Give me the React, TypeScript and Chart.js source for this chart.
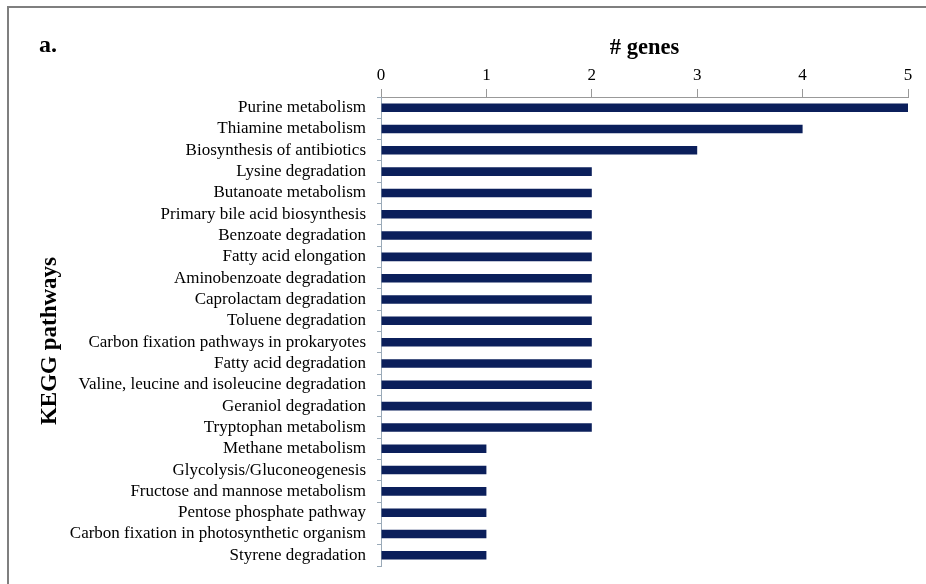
import React, { useEffect, useRef } from "react";
import { Chart, registerables } from "chart.js";

Chart.register(...registerables);

const pathways: string[] = [
  "Purine metabolism",
  "Thiamine metabolism",
  "Biosynthesis of antibiotics",
  "Lysine degradation",
  "Butanoate metabolism",
  "Primary bile acid biosynthesis",
  "Benzoate degradation",
  "Fatty acid elongation",
  "Aminobenzoate degradation",
  "Caprolactam degradation",
  "Toluene degradation",
  "Carbon fixation pathways in prokaryotes",
  "Fatty acid degradation",
  "Valine, leucine and isoleucine degradation",
  "Geraniol degradation",
  "Tryptophan metabolism",
  "Methane metabolism",
  "Glycolysis/Gluconeogenesis",
  "Fructose and mannose metabolism",
  "Pentose phosphate pathway",
  "Carbon fixation in photosynthetic organism",
  "Styrene degradation",
];

const geneCounts: number[] = [5, 4, 3, 2, 2, 2, 2, 2, 2, 2, 2, 2, 2, 2, 2, 2, 1, 1, 1, 1, 1, 1];

const xTicks: number[] = [0, 1, 2, 3, 4, 5];

const xTitle = "# genes";
const yTitle = "KEGG pathways";
const panelLabel = "a.";

const FONT = "'Liberation Serif', 'Times New Roman', serif";

const PAD_L = 10;
const PAD_T = 20;
const AXIS_X = 381;
const AXIS_Y = 97;

export default function App() {
  const ref = useRef<HTMLCanvasElement | null>(null);

  useEffect(() => {
    document.body.style.margin = "0";
    const canvas = ref.current;
    if (!canvas) return;

    const textPlugin = {
      id: "extraText",
      afterDraw(chart: any) {
        const ctx = chart.ctx;
        ctx.save();
        ctx.fillStyle = "#000";
        ctx.textBaseline = "middle";
        ctx.textAlign = "left";
        ctx.font = `bold 24px ${FONT}`;
        ctx.fillText(panelLabel, 39, 46);
        ctx.font = `bold 23px ${FONT}`;
        ctx.textAlign = "center";
        ctx.translate(50, 341);
        ctx.rotate(-Math.PI / 2);
        ctx.fillText(yTitle, 0, 0);
        ctx.restore();
      },
    };

    const chart = new Chart(canvas, {
      type: "bar",
      data: {
        labels: pathways,
        datasets: [
          {
            data: geneCounts,
            backgroundColor: "#0b1f5b",
            borderWidth: 0,
            categoryPercentage: 1,
            barPercentage: 0.4,
          },
        ],
      },
      plugins: [textPlugin],
      options: {
        indexAxis: "y",
        responsive: false,
        animation: false,
        events: [],
        layout: { padding: { left: PAD_L, top: PAD_T, right: 18, bottom: 18 } },
        plugins: { legend: { display: false }, tooltip: { enabled: false } },
        scales: {
          x: {
            type: "linear",
            position: "top",
            min: 0,
            max: 5,
            afterBuildTicks: (scale: any) => {
              scale.ticks = xTicks.map((v) => ({ value: v }));
            },
            afterFit: (scale: any) => {
              scale.height = AXIS_Y - PAD_T;
              scale.paddingLeft = 0;
              scale.paddingRight = 0;
            },
            ticks: {
              font: { family: FONT, size: 17 },
              color: "#000",
              padding: 3,
            },
            grid: {
              drawOnChartArea: false,
              drawTicks: true,
              tickLength: 8,
              color: "#999",
            },
            border: { display: true, color: "#999" },
            title: {
              display: true,
              text: xTitle,
              font: { family: FONT, size: 22.5, weight: "bold" },
              color: "#000",
              padding: { top: 15, bottom: 0 },
            },
          },
          y: {
            type: "category",
            afterFit: (scale: any) => {
              scale.width = AXIS_X - PAD_L;
              scale.paddingTop = 0;
              scale.paddingBottom = 0;
            },
            ticks: {
              autoSkip: false,
              font: { family: FONT, size: 17 },
              color: "#000",
              padding: 11,
            },
            grid: {
              offset: true,
              drawOnChartArea: false,
              drawTicks: true,
              tickLength: 4,
              color: "#9aaab8",
            },
            border: { display: true, color: "#9aaab8" },
            title: { display: false },
          },
        },
      },
    });

    return () => chart.destroy();
  }, []);

  return (
    <div style={{ position: "absolute", left: 0, top: 0, width: 926, height: 584, background: "#fff", overflow: "hidden" }}>
      <div
        style={{
          position: "absolute",
          left: 7,
          top: 6,
          width: 940,
          height: 600,
          borderTop: "2px solid #7f7f7f",
          borderLeft: "2px solid #7f7f7f",
        }}
      />
      <canvas ref={ref} width={926} height={584} style={{ position: "absolute", left: 0, top: 0 }} />
    </div>
  );
}
